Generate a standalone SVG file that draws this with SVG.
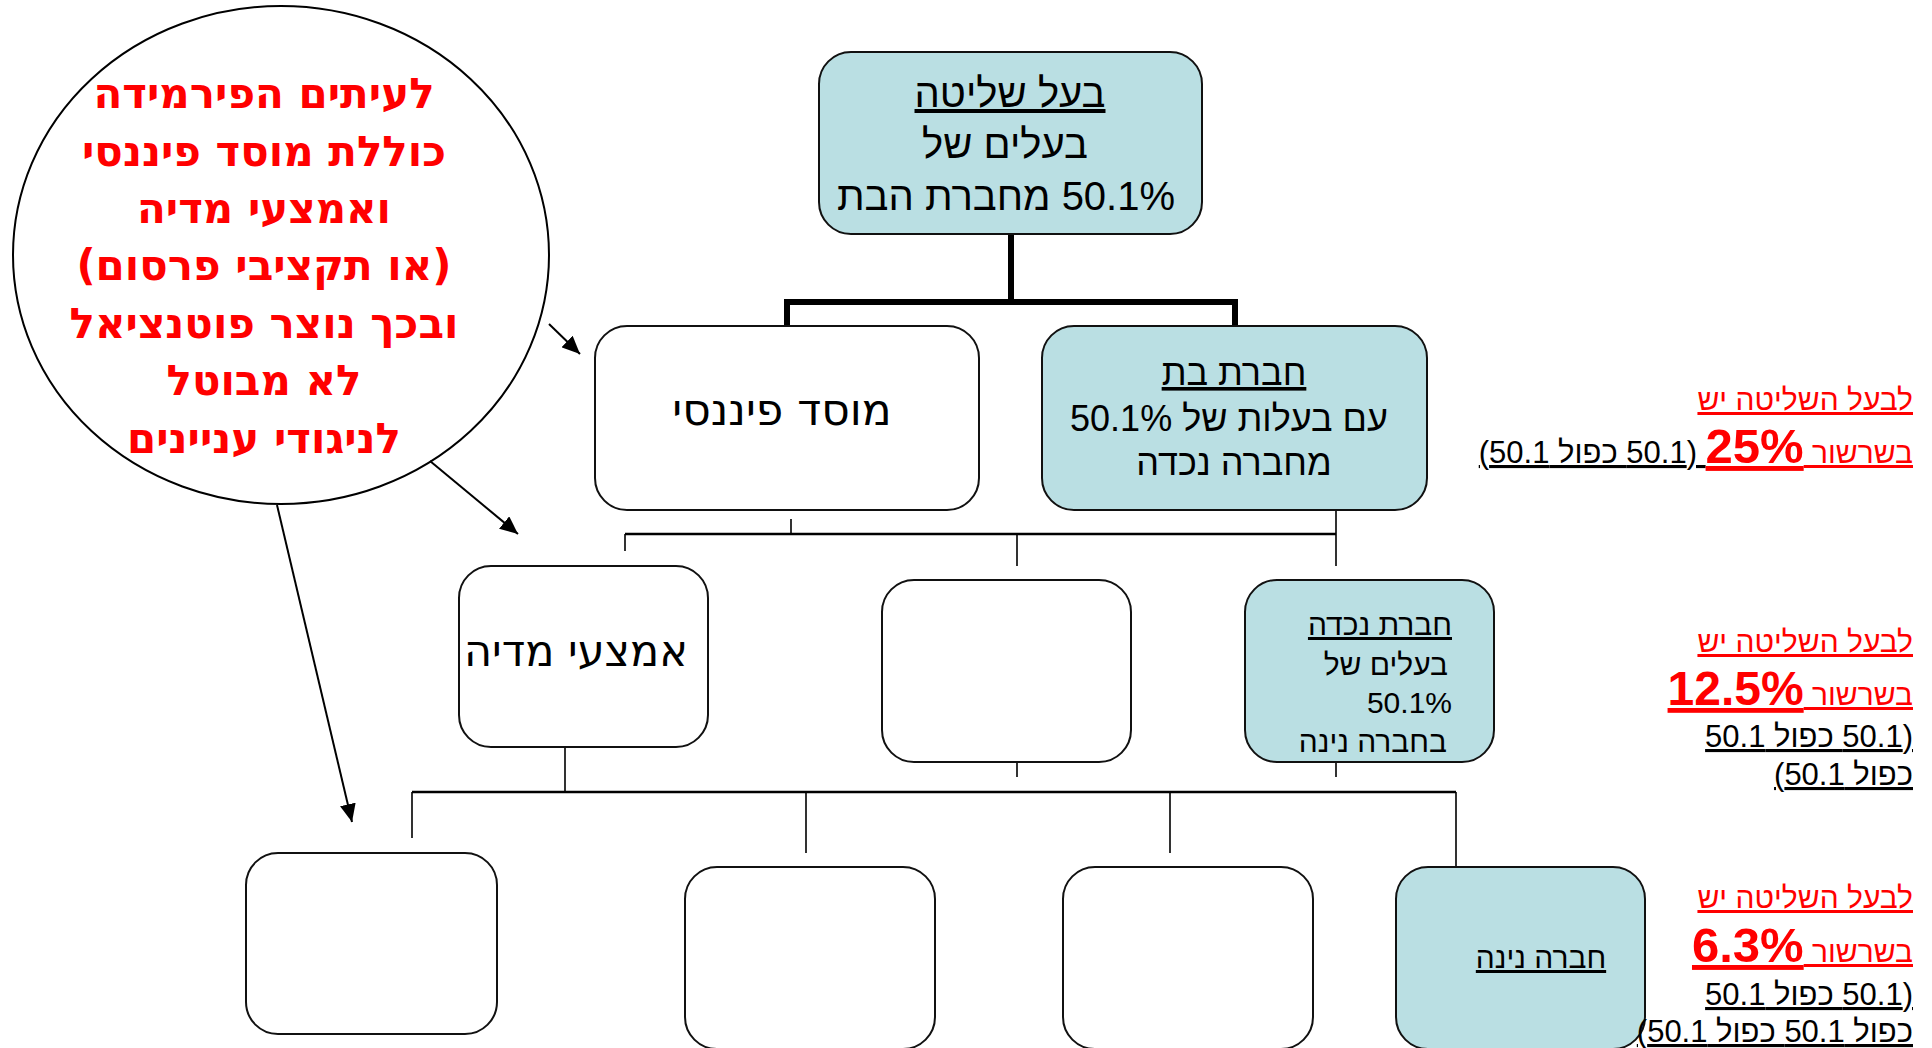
<svg xmlns="http://www.w3.org/2000/svg" width="1932" height="1048" viewBox="0 0 1932 1048">
<style>
.box{stroke:#111;stroke-width:2}
.fill{fill:#BADFE3}
.white{fill:#fff}
.t{font-family:"Liberation Sans",Arial,sans-serif;fill:#000}
.d{font-family:"DejaVu Sans","Liberation Sans",sans-serif;fill:#000}
.u{text-decoration:underline}
.red{fill:#FF0000}
.thick{stroke:#000;stroke-width:6;fill:none}
.thin{stroke:#000;stroke-width:1.6;fill:none}
.mid{stroke:#000;stroke-width:2.6;fill:none}
.arr{stroke:#000;stroke-width:2;fill:none;marker-end:url(#ah)}
.rt{direction:rtl}
</style>
<defs>
<marker id="ah" markerUnits="userSpaceOnUse" markerWidth="20" markerHeight="16" refX="18" refY="8" orient="auto">
<path d="M0,0 L18,8 L0,16 Z" fill="#000"/>
</marker>
</defs>
<rect width="1932" height="1048" fill="#fff"/>

<g id="connectors">
<path class="thick" d="M1011,234 V302 M787,302 H1235 M787,299 V326 M1235,299 V326"/>
<path class="thin" d="M791,519 V534 M625,534 V551 M1017,534 V566 M1336,505 V566"/>
<path class="mid" d="M625,534 H1336"/>
<path class="thin" d="M565,747 V792 M412,792 V838 M806,792 V853 M1170,792 V853 M1456,792 V867 M1017,762 V777 M1336,762 V777"/>
<path class="mid" d="M412,792 H1456"/>
<path class="arr" d="M549,324 L580,354"/>
<path class="arr" d="M430,461 L518,534"/>
<path class="arr" d="M277,505 L352,822"/>
</g>

<g id="callout">
<ellipse cx="281" cy="255" rx="268" ry="249" fill="none" stroke="#000" stroke-width="2"/>
<g font-family="'DejaVu Sans','Liberation Sans',sans-serif" font-weight="bold" font-size="42" fill="#FF0000" text-anchor="middle" direction="rtl">
<text x="264" y="108">לעיתים הפירמידה</text>
<text x="264" y="166">כוללת מוסד פיננסי</text>
<text x="264" y="223">ואמצעי מדיה</text>
<text x="264" y="280">(או תקציבי פרסום)</text>
<text x="264" y="338">ובכך נוצר פוטנציאל</text>
<text x="264" y="395">לא מבוטל</text>
<text x="264" y="453">לניגודי עניינים</text>
</g>
</g>

<g id="controller">
<rect class="box fill" x="819" y="52" width="383" height="182" rx="32"/>
<g class="t rt" font-size="40" text-anchor="middle">
<text class="u" x="1010" y="107">בעל שליטה</text>
<text x="1005" y="158">בעלים של</text>
<text x="1006" y="210">50.1% מחברת הבת</text>
</g>
</g>

<g id="financial">
<rect class="box white" x="595" y="326" width="384" height="184" rx="32"/>
<text class="d rt" x="782" y="425" font-size="44" text-anchor="middle">מוסד פיננסי</text>
</g>

<g id="subsidiary">
<rect class="box fill" x="1042" y="326" width="385" height="184" rx="32"/>
<g class="t rt" font-size="36" text-anchor="middle">
<text class="u" x="1234" y="385">חברת בת</text>
<text x="1229" y="431">עם בעלות של 50.1%</text>
<text x="1234" y="475">מחברה נכדה</text>
</g>
</g>

<g id="media">
<rect class="box white" x="459" y="566" width="249" height="181" rx="32"/>
<text class="d rt" x="576" y="666" font-size="43" text-anchor="middle">אמצעי מדיה</text>
</g>

<g id="empty3">
<rect class="box white" x="882" y="580" width="249" height="182" rx="32"/>
</g>

<g id="granddaughter">
<rect class="box fill" x="1245" y="580" width="249" height="182" rx="32"/>
<g class="t rt" font-size="30" text-anchor="start">
<text class="u" x="1452" y="635">חברת נכדה</text>
<text x="1448" y="675">בעלים של</text>
<text x="1452" y="713">50.1%</text>
<text x="1447" y="752">בחברה נינה</text>
</g>
</g>

<g id="empty4a">
<rect class="box white" x="246" y="853" width="251" height="181" rx="32"/>
</g>
<g id="empty4b">
<rect class="box white" x="685" y="867" width="250" height="182" rx="32"/>
</g>
<g id="empty4c">
<rect class="box white" x="1063" y="867" width="250" height="182" rx="32"/>
</g>
<g id="greatgranddaughter">
<rect class="box fill" x="1396" y="867" width="249" height="182" rx="32"/>
<text class="t rt u" x="1541" y="968" font-size="30" text-anchor="middle">חברה נינה</text>
</g>

<g id="notes" class="t rt" font-size="30" text-anchor="start">
<text class="red u" x="1913" y="410">לבעל השליטה יש</text>
<text x="1913" y="463"><tspan class="red u">בשרשור </tspan><tspan class="red u" font-weight="bold" font-size="49">25%</tspan><tspan class="u" font-size="31"> (50.1 כפול 50.1)</tspan></text>

<text class="red u" x="1913" y="652">לבעל השליטה יש</text>
<text x="1913" y="705"><tspan class="red u">בשרשור </tspan><tspan class="red u" font-weight="bold" font-size="48">12.5%</tspan></text>
<text class="u" x="1913" y="747" font-size="31">(50.1 כפול 50.1</text>
<text class="u" x="1913" y="785" font-size="31">כפול 50.1)</text>

<text class="red u" x="1913" y="908">לבעל השליטה יש</text>
<text x="1913" y="962"><tspan class="red u">בשרשור </tspan><tspan class="red u" font-weight="bold" font-size="49">6.3%</tspan></text>
<text class="u" x="1913" y="1005" font-size="31">(50.1 כפול 50.1</text>
<text class="u" x="1913" y="1042" font-size="31">כפול 50.1 כפול 50.1)</text>
</g>
</svg>
